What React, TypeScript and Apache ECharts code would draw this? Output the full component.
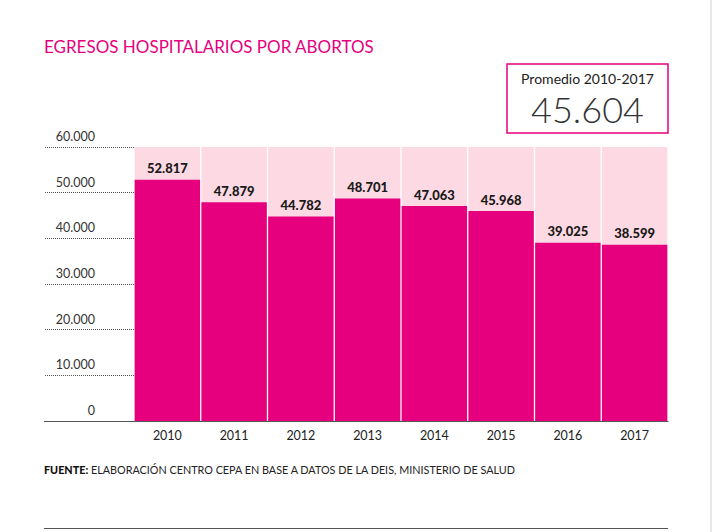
import React, { useEffect, useRef } from 'react';
import * as echarts from 'echarts';

const years = ['2010', '2011', '2012', '2013', '2014', '2015', '2016', '2017'];
const egresos = [52817, 47879, 44782, 48701, 47063, 45968, 39025, 38599];
const yTicks = [0, 10000, 20000, 30000, 40000, 50000, 60000];

const PINK = '#e6007e';
const LIGHT_PINK = '#fdd9e3';
const FONT = 'Lato, "Open Sans", sans-serif';

const fmt = (v: number) => String(Math.round(v)).replace(/\B(?=(\d{3})+(?!\d))/g, '.');

const App: React.FC = () => {
    const chartRef = useRef<HTMLDivElement | null>(null);

    useEffect(() => {
        if (!chartRef.current) return;

        const myChart = echarts.init(chartRef.current, undefined, { renderer: 'svg' });

        const yMax = yTicks[yTicks.length - 1];
        const avg = egresos.reduce((a, b) => a + b, 0) / egresos.length;

        const option = {
            animation: false,
            backgroundColor: '#fff',
            textStyle: { fontFamily: FONT },
            grid: { left: 134, right: 44, top: 147, bottom: 111 },
            xAxis: {
                type: 'category',
                data: years,
                axisLine: { lineStyle: { color: '#555', width: 1 } },
                axisTick: { show: false },
                axisLabel: { color: '#222', fontSize: 12.5, margin: 8, fontFamily: FONT }
            },
            yAxis: {
                type: 'value',
                min: 0,
                max: yMax,
                interval: 10000,
                axisLine: { show: false },
                splitLine: { show: false },
                axisTick: { show: true, length: 90, lineStyle: { color: '#555', type: 'dotted', width: 1 } },
                axisLabel: {
                    color: '#333',
                    fontSize: 12.5,
                    margin: 39,
                    align: 'right',
                    verticalAlign: 'bottom',
                    padding: [0, 0, 4, 0],
                    fontFamily: FONT,
                    formatter: (v: number) => fmt(v)
                }
            },
            series: [
                {
                    type: 'bar',
                    data: years.map(() => yMax),
                    barCategoryGap: '2%',
                    barGap: '-100%',
                    itemStyle: { color: LIGHT_PINK },
                    silent: true,
                    z: 1
                },
                {
                    type: 'bar',
                    data: egresos,
                    barCategoryGap: '2%',
                    barGap: '-100%',
                    itemStyle: { color: PINK },
                    label: {
                        show: true,
                        position: 'top',
                        distance: 5,
                        color: '#1a1a1a',
                        fontWeight: 900,
                        fontSize: 13,
                        fontFamily: FONT,
                        formatter: (p: any) => fmt(p.value)
                    },
                    z: 2
                }
            ],
            graphic: [
                {
                    type: 'text',
                    left: 44,
                    top: 38,
                    style: { text: 'EGRESOS HOSPITALARIOS POR ABORTOS', fill: PINK, fontSize: 17, fontFamily: FONT }
                },
                {
                    type: 'rect',
                    shape: { x: 507, y: 64, width: 161, height: 69 },
                    style: { fill: '#fff', stroke: PINK, lineWidth: 1.5 }
                },
                {
                    type: 'text',
                    x: 587.5,
                    y: 78,
                    style: {
                        text: 'Promedio 2010-2017', fill: '#222', fontSize: 14, fontFamily: FONT,
                        align: 'center', verticalAlign: 'middle'
                    }
                },
                {
                    type: 'text',
                    x: 587.5,
                    y: 109,
                    style: {
                        text: fmt(avg), fill: '#333', fontSize: 36, fontWeight: 300, fontFamily: FONT,
                        align: 'center', verticalAlign: 'middle'
                    }
                },
                {
                    type: 'line',
                    shape: { x1: 44, y1: 421.5, x2: 134, y2: 421.5 },
                    style: { stroke: '#555', lineWidth: 1 }
                },
                {
                    type: 'text',
                    left: 44,
                    top: 464,
                    style: {
                        text: '{b|FUENTE:} ELABORACIÓN CENTRO CEPA EN BASE A DATOS DE LA DEIS, MINISTERIO DE SALUD',
                        fill: '#222', fontSize: 10.8, fontFamily: FONT,
                        rich: { b: { fontWeight: 900, fontSize: 10.8, fill: '#111', fontFamily: FONT } }
                    }
                },
                {
                    type: 'line',
                    shape: { x1: 44, y1: 528.5, x2: 668, y2: 528.5 },
                    style: { stroke: '#555', lineWidth: 1 }
                },
                {
                    type: 'line',
                    shape: { x1: 711, y1: 0, x2: 711, y2: 532 },
                    style: { stroke: '#e0e0e0', lineWidth: 1.5 }
                }
            ]
        };

        myChart.setOption(option);

        return () => {
            myChart.dispose();
        };
    }, []);

    return (
        <div
            ref={chartRef}
            style={{ position: 'fixed', left: 0, top: 0, width: 712, height: 532 }}
        />
    );
};

export default App;
